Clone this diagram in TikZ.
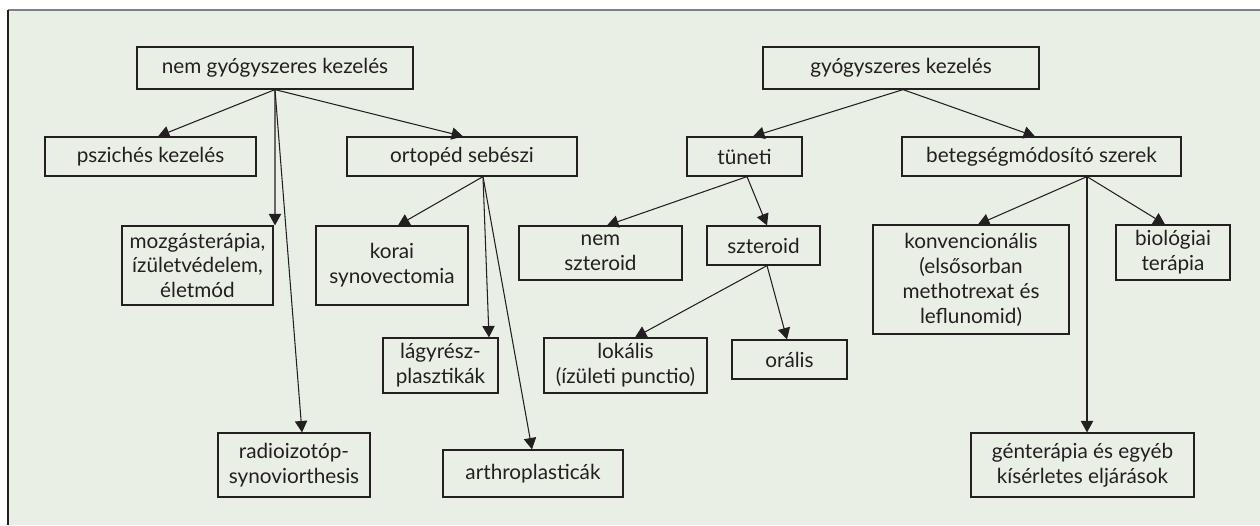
\documentclass[tikz,border=0pt]{standalone}
\usepackage{fontspec}
\setmainfont{Lato}
\usetikzlibrary{positioning,calc,arrows.meta}
\definecolor{bggreen}{RGB}{234,239,230}
\definecolor{inkgray}{RGB}{35,31,32}
\tikzset{>={Triangle[length=6.5pt,width=7pt]}}
\tikzset{box/.style={draw=inkgray, rectangle, inner sep=0pt, align=center, line width=0.7pt, text=inkgray, font=\fontsize{11.8}{14.2}\selectfont}}
\begin{document}
\begin{tikzpicture}[x=0.02cm, y=-0.02cm]
      \useasboundingbox (0,0) rectangle (1260,525);
      \fill[bggreen] (8,10) rectangle (1260,525);
      \draw[gray, line width=1.1pt] (8,10) -- (1260,10);
      \draw[inkgray, line width=0.6pt] (8,10) -- (8,525);
      % roots
      \node[box, minimum width=5.52cm, minimum height=0.84cm] (ngy) at (275,68) {nem gyógyszeres kezelés};
      \node[box, minimum width=5.52cm, minimum height=0.84cm] (gy) at (901,68) {gyógyszeres kezelés};
      % second row
      \node[box, minimum width=4.22cm, minimum height=0.78cm] (psz) at (150.5,156.5) {pszichés kezelés};
      \node[box, minimum width=4.6cm, minimum height=0.78cm] (ort) at (462,156.5) {ortopéd sebészi};
      \node[box, minimum width=2.3cm, minimum height=0.78cm] (tun) at (744.5,156.5) {tüneti};
      \node[box, minimum width=5.58cm, minimum height=0.78cm] (bet) at (1041.5,156.5) {betegségmódosító szerek};
      % third row
      \node[box, minimum width=3.02cm, minimum height=1.58cm] (moz) at (197.5,265.5) {mozgásterápia,\\ízületvédelem,\\életmód};
      \node[box, minimum width=3.04cm, minimum height=1.58cm] (kor) at (392,265.5) {korai\\synovectomia};
      \node[box, minimum width=3.26cm, minimum height=1.08cm] (nsz) at (600.5,253) {nem\\szteroid};
      \node[box, minimum width=2.26cm, minimum height=0.78cm] (szt) at (763.5,245.5) {szteroid};
      \node[box, minimum width=3.92cm, minimum height=2.18cm] (kon) at (971,279.5) {konvencionális\\(elsősorban\\methotrexat és\\leflunomid)};
      \node[box, minimum width=2.28cm, minimum height=1.1cm] (bio) at (1173,252.5) {biológiai\\terápia};
      % fourth row
      \node[box, minimum width=2.3cm, minimum height=1.1cm] (lag) at (440.5,365.5) {lágyrész-\\plasztikák};
      \node[box, minimum width=3.26cm, minimum height=1.1cm] (lok) at (625.5,365.5) {lokális\\(ízületi punctio)};
      \node[box, minimum width=2.3cm, minimum height=0.78cm] (ora) at (789.5,359.5) {orális};
      % bottom row
      \node[box, minimum width=3.04cm, minimum height=1.28cm] (rad) at (294,465) {radioizotóp-\\synoviorthesis};
      \node[box, minimum width=3.6cm, minimum height=0.94cm] (art) at (533,473.5) {arthroplasticák};
      \node[box, minimum width=4.46cm, minimum height=1.28cm] (gen) at (1082.5,465) {génterápia és egyéb\\kísérletes eljárások};
      % fork points
      \coordinate (ngyB) at (ngy.south);
      \coordinate (gyB) at ($(gy.south)+(2,0)$);
      \coordinate (ortB) at ($(ort.south)+(21,0)$);
      \coordinate (tunB) at ($(tun.south)+(2.5,0)$);
      \coordinate (sztB) at ($(szt.south)+(3.5,0)$);
      \coordinate (betB) at ($(bet.south)+(45.5,0)$);
      \begin{scope}[inkgray, line width=0.6pt]
      \draw[->] (ngyB) -- ($(psz.north)+(7.5,0)$);
      \draw[->] (ngyB) -- ($(ort.north)+(1,0)$);
      \draw[->] (ngyB) -- ($(moz.north)+(77.5,0)$);
      \draw[->] (ngyB) -- ($(rad.north)+(8,0)$);
      \draw[->] (ortB) -- ($(kor.north)+(6,0)$);
      \draw[->] (ortB) -- ($(lag.north)+(48.5,0)$);
      \draw[->] (ortB) -- ($(art.north)+(-1,0)$);
      \draw[->] (gyB) -- ($(tun.north)+(8.5,0)$);
      \draw[->] (gyB) -- ($(bet.north)+(-6.5,0)$);
      \draw[->] (tunB) -- ($(nsz.north)+(6.5,0)$);
      \draw[->] (tunB) -- ($(szt.north)+(3.5,0)$);
      \draw[->] (sztB) -- ($(lok.north)+(9.5,0)$);
      \draw[->] (sztB) -- ($(ora.north)+(-2.5,0)$);
      \draw[->] (betB) -- ($(kon.north)+(7,0)$);
      \draw[->] (betB) -- ($(gen.north)+(4.5,0)$);
      \draw[->] (betB) -- ($(bio.north)+(-8,0)$);
      \end{scope}
\end{tikzpicture}
\end{document}
